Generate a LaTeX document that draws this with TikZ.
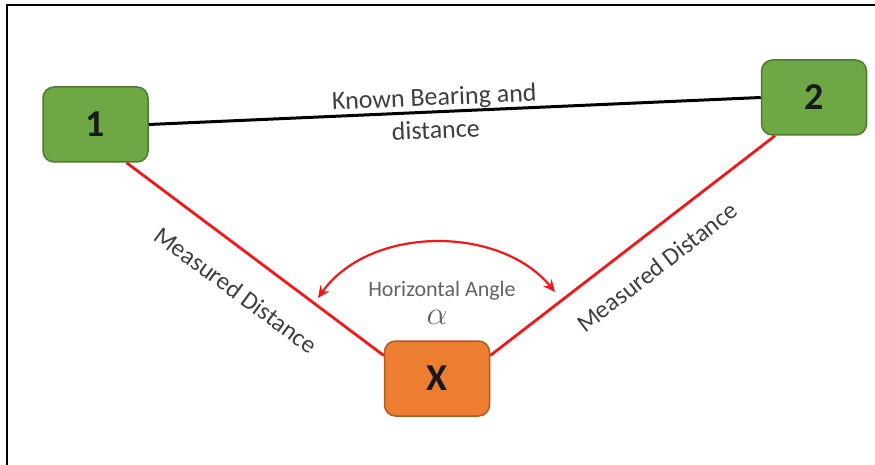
\documentclass[tikz,border=0pt]{standalone}
\usepackage{fontspec}
\setmainfont{Carlito}
\usetikzlibrary{arrows.meta}
\definecolor{gfill}{HTML}{6DA845}
\definecolor{gdraw}{HTML}{4E7A30}
\definecolor{ofill}{HTML}{ED7D31}
\definecolor{odraw}{HTML}{B05A22}
\definecolor{redline}{HTML}{F01818}
\definecolor{lbl}{HTML}{3F3F3F}
\definecolor{lbllight}{HTML}{626262}
\begin{document}
\begin{tikzpicture}[x=1pt,y=-1pt,
  box/.style={rounded corners=11pt, minimum width=105pt, minimum height=75pt, line width=1.5pt, font=\fontsize{38}{38}\selectfont\bfseries, text=black!90, inner sep=0pt},
  greenbox/.style={box, fill=gfill, draw=gdraw},
  orangebox/.style={box, fill=ofill, draw=odraw},
  redln/.style={draw=redline, line width=2.8pt},
  lab/.style={font=\fontsize{25}{33}\selectfont, text=lbl, inner sep=0pt}]
\useasboundingbox (0,0) rectangle (875,465);
\coordinate (fb) at (6.5,465);
\coordinate (fc) at (6.5,5.5);
\coordinate (fr) at (875,5.5);
\draw[line width=2pt] (fb) -- (fc) -- (fr);

\node[greenbox] (n1) at (95.5,124.5) {1};
\node[greenbox] (n2) at (814,97.5) {2};
\node[orangebox] (nx) at (437,378.5) {X};

\draw[line width=3pt] (n1.east) -- (n2.west);
\draw[redln] ([xshift=31pt]n1.south) -- ([yshift=23pt]nx.west);
\draw[redln] ([yshift=23pt]nx.east) -- ([xshift=-39pt]n2.south);

\coordinate (aL) at (318,298);
\coordinate (aR) at (555,292);
\draw[redline, line width=2.2pt, {Stealth[length=12pt,width=11pt]}-{Stealth[length=12pt,width=11pt]}] (aL) .. controls (370,225) and (500,225) .. (aR);

\node[lab, align=center, rotate=2.5, font=\fontsize{26}{33}\selectfont] (kb) at (435,113) {Known Bearing and\\distance};
\node[lab, rotate=-36.3] (md1) at (236,290) {Measured Distance};
\node[lab, rotate=37.7] (md2) at (657,267) {Measured Distance};
\node[lab, text=lbllight, font=\fontsize{22}{24}\selectfont] (ha) at (442,291) {Horizontal Angle};
\node[text=lbllight, inner sep=0pt, font=\fontsize{20}{20}\selectfont, scale=1.6, transform shape] (al) at (437,317) {$\alpha$};
\end{tikzpicture}
\end{document}
